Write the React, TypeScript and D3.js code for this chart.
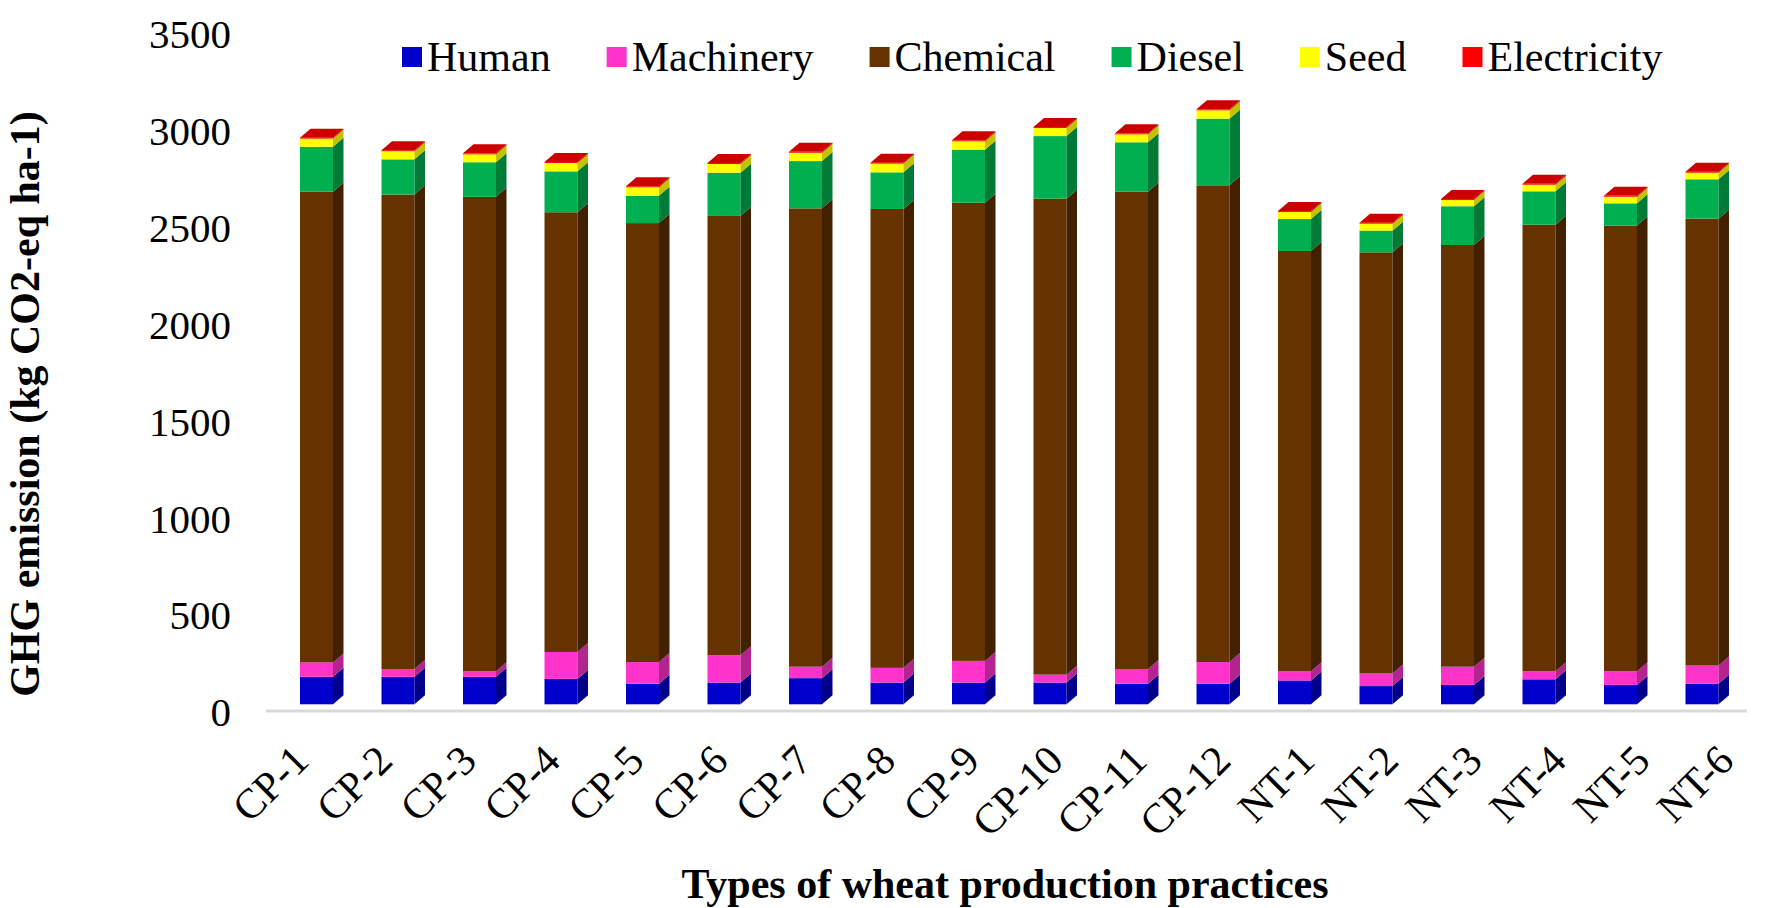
import React, { useEffect, useRef } from "react";
import * as d3 from "d3";

const categories = ["CP-1","CP-2","CP-3","CP-4","CP-5","CP-6","CP-7","CP-8","CP-9","CP-10","CP-11","CP-12","NT-1","NT-2","NT-3","NT-4","NT-5","NT-6"];
const human = [142,142,142,131,106,112,135,112,112,112,106,106,123,94,100,129,100,106];
const machinery = [74,40,29,139,112,141,59,76,112,41,76,112,47,65,94,41,70,94];
const chemical = [2429,2448,2448,2269,2265,2267,2365,2368,2364,2456,2463,2460,2169,2173,2176,2305,2300,2306];
const diesel = [232,182,178,211,141,223,244,189,274,323,255,344,165,112,200,172,115,203];
const seed = [42,42,41,43,44,45,43,45,43,42,41,43,36,36,32,34,34,34];
const electricity = [5,5,5,5,5,5,5,5,5,5,5,5,5,5,5,5,5,5];
const yTicks = [0,500,1000,1500,2000,2500,3000,3500];

const seriesNames = ["Human","Machinery","Chemical","Diesel","Seed","Electricity"];
const seriesData = [human, machinery, chemical, diesel, seed, electricity];
const frontColors = ["#0000CC","#FF33CC","#663300","#00B050","#FFFF00","#FF0000"];
const sideColors = ["#00008A","#B3248F","#432100","#007A37","#C2C200","#B00000"];
const topColors = ["#2222DD","#FF55D5","#7A4010","#10C060","#E6E600","#CC0000"];

const W = 1775, H = 908;
const FONT = "'Liberation Serif', 'Times New Roman', serif";

export default function App() {
  const ref = useRef<SVGSVGElement>(null);
  useEffect(() => {
    const svg = d3.select(ref.current);
    svg.selectAll("*").remove();

    const x = d3.scaleBand<string>().domain(categories).range([281, 1748]).padding(0);
    const xLabel = d3.scalePoint<string>().domain(categories).range([301, 1726]);
    const y = d3.scaleLinear().domain([0, 3500]).range([704.3, 704.3 - 3500 * 0.1938]);
    const fw = 33, dx = 10.5, dy = 9;
    const step = x.step();

    // axis floor line
    svg.append("line")
      .attr("x1", 266).attr("x2", 1747)
      .attr("y1", 711).attr("y2", 711)
      .attr("stroke", "#D9D9D9").attr("stroke-width", 3);

    // y tick labels
    svg.append("g").selectAll("text").data(yTicks).join("text")
      .attr("x", 231).attr("y", d => y(d) + 8)
      .attr("text-anchor", "end").attr("dominant-baseline", "central")
      .attr("font-family", FONT).attr("font-size", 41).attr("fill", "#000")
      .text(d => String(d));

    // bars
    const gBars = svg.append("g");
    categories.forEach((c, i) => {
      const x0 = (x(c) as number) + step / 2 - (fw + dx) / 2;
      let cum = 0;
      const nSeries = seriesData.length;
      seriesData.forEach((arr, s) => {
        const v0 = cum, v1 = cum + arr[i];
        cum = v1;
        const yb = y(v0), yt = y(v1);
        gBars.append("rect")
          .attr("x", x0).attr("y", yt).attr("width", fw).attr("height", Math.max(0, yb - yt))
          .attr("fill", frontColors[s]);
        gBars.append("path")
          .attr("d", `M${x0 + fw},${yb}L${x0 + fw + dx},${yb - dy}L${x0 + fw + dx},${yt - dy}L${x0 + fw},${yt}Z`)
          .attr("fill", sideColors[s]);
        if (s === nSeries - 1) {
          gBars.append("path")
            .attr("d", `M${x0},${yt}L${x0 + dx},${yt - dy}L${x0 + fw + dx},${yt - dy}L${x0 + fw},${yt}Z`)
            .attr("fill", topColors[s]);
        }
      });
    });

    // x tick labels
    svg.append("g").selectAll("text").data(categories).join("text")
      .attr("transform", c => `translate(${xLabel(c) as number},${753}) rotate(-45)`)
      .attr("text-anchor", "end").attr("dominant-baseline", "central")
      .attr("font-family", FONT).attr("font-size", 42).attr("fill", "#000")
      .text(c => c);

    // legend
    const gl = svg.append("g");
    let lx = 402;
    seriesNames.forEach((name, s) => {
      gl.append("rect").attr("x", lx).attr("y", 47).attr("width", 20).attr("height", 20).attr("fill", frontColors[s]);
      const t = gl.append("text")
        .attr("x", lx + 25).attr("y", 57)
        .attr("dominant-baseline", "central")
        .attr("font-family", FONT).attr("font-size", 42).attr("fill", "#000")
        .text(name);
      const len = (t.node() as SVGTextElement).getComputedTextLength();
      lx += 25 + len + 56;
    });

    // axis titles
    svg.append("text")
      .attr("transform", `translate(25,404) rotate(-90)`)
      .attr("text-anchor", "middle").attr("dominant-baseline", "central")
      .attr("font-family", FONT).attr("font-size", 42).attr("font-weight", "bold").attr("fill", "#000")
      .text("GHG emission (kg CO2-eq ha-1)");
    svg.append("text")
      .attr("x", 1005).attr("y", 884)
      .attr("text-anchor", "middle").attr("dominant-baseline", "central")
      .attr("font-family", FONT).attr("font-size", 42).attr("font-weight", "bold").attr("fill", "#000")
      .text("Types of wheat production practices");
  }, []);

  return (
    <svg ref={ref} width={W} height={H} viewBox={`0 0 ${W} ${H}`}
      style={{ position: "absolute", left: 0, top: 0, background: "#fff", display: "block" }} />
  );
}
